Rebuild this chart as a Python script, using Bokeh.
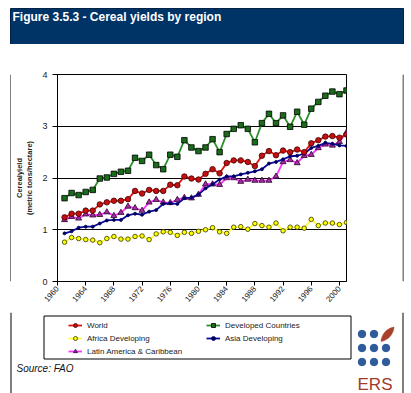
import math
from bokeh.plotting import figure
from bokeh.layouts import column, row
from bokeh.models import FixedTicker, Range1d, Legend, LegendItem
from bokeh.core.properties import value
from bokeh.embed import file_html
from bokeh.resources import INLINE

# ---------------- data ----------------
years = [1961, 1962, 1963, 1964, 1965, 1966, 1967, 1968, 1969, 1970,
         1971, 1972, 1973, 1974, 1975, 1976, 1977, 1978, 1979, 1980,
         1981, 1982, 1983, 1984, 1985, 1986, 1987, 1988, 1989, 1990,
         1991, 1992, 1993, 1994, 1995, 1996, 1997, 1998, 1999, 2000, 2001]

world = [1.24, 1.31, 1.31, 1.37, 1.37, 1.49, 1.53, 1.56, 1.56, 1.59,
         1.75, 1.70, 1.77, 1.75, 1.75, 1.87, 1.86, 2.03, 1.99, 1.97,
         2.08, 2.17, 2.09, 2.29, 2.34, 2.34, 2.31, 2.23, 2.43, 2.52,
         2.44, 2.53, 2.50, 2.55, 2.50, 2.67, 2.73, 2.80, 2.81, 2.78, 2.84]

developed = [1.61, 1.71, 1.67, 1.73, 1.77, 1.99, 2.01, 2.08, 2.12, 2.14,
             2.39, 2.33, 2.45, 2.25, 2.17, 2.45, 2.41, 2.73, 2.59, 2.52,
             2.59, 2.75, 2.50, 2.85, 2.95, 3.02, 2.95, 2.69, 3.06, 3.24,
             3.06, 3.21, 2.99, 3.28, 3.03, 3.34, 3.47, 3.59, 3.67, 3.62, 3.69]

africa = [0.76, 0.85, 0.83, 0.81, 0.80, 0.75, 0.83, 0.87, 0.82, 0.82,
          0.87, 0.88, 0.81, 0.92, 0.96, 0.95, 0.89, 0.95, 0.93, 0.97,
          1.00, 1.04, 0.96, 0.93, 1.05, 1.06, 1.01, 1.12, 1.08, 1.05,
          1.13, 0.98, 1.05, 1.05, 1.03, 1.20, 1.08, 1.13, 1.13, 1.10, 1.14]

latin = [1.19, 1.25, 1.22, 1.30, 1.28, 1.29, 1.34, 1.27, 1.33, 1.45,
         1.42, 1.37, 1.53, 1.58, 1.53, 1.52, 1.58, 1.62, 1.61, 1.68,
         1.88, 1.88, 1.87, 2.00, 2.00, 1.93, 1.97, 1.95, 1.95, 1.95,
         2.03, 2.31, 2.35, 2.29, 2.43, 2.45, 2.58, 2.65, 2.63, 2.70, 2.88]

asia = [0.93, 0.97, 1.04, 1.06, 1.06, 1.12, 1.18, 1.19, 1.19, 1.28,
        1.31, 1.29, 1.35, 1.38, 1.50, 1.51, 1.50, 1.61, 1.62, 1.68,
        1.80, 1.88, 1.97, 2.03, 2.03, 2.07, 2.10, 2.13, 2.17, 2.28,
        2.31, 2.36, 2.42, 2.43, 2.47, 2.58, 2.62, 2.68, 2.66, 2.63, 2.62]

x_ticks = [1960, 1964, 1968, 1972, 1976, 1980, 1984, 1988, 1992, 1996, 2000]
y_ticks = [0, 1, 2, 3, 4]

series_names = ["World", "Africa Developing", "Latin America & Caribbean",
                "Developed Countries", "Asia Developing"]

FONT = "Liberation Sans"

STY = {
    "World": dict(line="#e01010", marker="circle", size=5.5, fill="#c41010", edge="#400000"),
    "Developed Countries": dict(line="#2a8f2a", marker="square", size=5.5, fill="#1a6b1a", edge="#000000"),
    "Africa Developing": dict(line="#ffff33", marker="circle", size=4.5, fill="#ffff00", edge="#333300"),
    "Latin America & Caribbean": dict(line="#ff33ff", marker="triangle", size=6, fill="#a030a0", edge="#300030"),
    "Asia Developing": dict(line="#0a0a9a", marker="circle", size=3, fill="#000060", edge="#000060"),
}
DATA = {"World": world, "Developed Countries": developed, "Africa Developing": africa,
        "Latin America & Caribbean": latin, "Asia Developing": asia}


def deco_fig(w, h, x0, x1, y0, y1):
    f = figure(width=w, height=h, output_backend="svg", toolbar_location=None,
               title=None, x_range=Range1d(x0, x1), y_range=Range1d(y1, y0),
               x_axis_location=None, y_axis_location=None, min_border=0,
               background_fill_color="white", border_fill_color="white")
    f.grid.visible = False
    f.outline_line_color = None
    return f


# ---------------- title bar (page y 0..44) ----------------
top = deco_fig(411, 44, 0, 411, 0, 44)
top.quad(left=[10], right=[403], top=[8], bottom=[44], fill_color="#003366",
         line_color="#002244", line_width=1)
top.text(x=[12], y=[16.5], text=["Figure 3.5.3 - Cereal yields by region"],
         text_font=value(FONT), text_font_size=value("12px"), text_font_style="bold",
         text_color="white", text_baseline="middle", text_align="left")

# ---------------- chart (page x 11..402, y 44..312) ----------------
p = figure(width=391, height=268, output_backend="svg", toolbar_location=None,
           title=None, x_range=(1960, 2001), y_range=(0, 4),
           min_border_left=42, min_border_right=56,
           min_border_top=30, min_border_bottom=31,
           background_fill_color="white", border_fill_color="white")
p.outline_line_color = "black"
p.outline_line_width = 1

p.xgrid.visible = False
p.ygrid.ticker = FixedTicker(ticks=y_ticks)
p.ygrid.grid_line_color = "black"
p.ygrid.grid_line_width = 1

p.xaxis.ticker = FixedTicker(ticks=x_ticks)
p.xaxis.major_label_orientation = 0.85
p.xaxis.major_tick_out = 4
p.xaxis.major_tick_in = 0
p.xaxis.minor_tick_line_color = None
p.xaxis.major_label_text_font = FONT
p.xaxis.major_label_text_font_size = "8px"
p.xaxis.major_label_text_color = "#222222"
p.xaxis.major_label_standoff = 2
p.xaxis.axis_line_color = "black"

p.yaxis.ticker = FixedTicker(ticks=y_ticks)
p.yaxis.major_tick_out = 5
p.yaxis.major_tick_in = 0
p.yaxis.minor_tick_line_color = None
p.yaxis.major_label_text_font = FONT
p.yaxis.major_label_text_font_size = "9px"
p.yaxis.major_label_text_color = "#222222"
p.yaxis.axis_label = "Cerealyield\n(metric tons/hectare)"
p.yaxis.axis_label_text_font = FONT
p.yaxis.axis_label_text_font_size = "7.5px"
p.yaxis.axis_label_text_font_style = "bold"
p.yaxis.axis_label_text_color = "#222222"
p.yaxis.axis_label_standoff = 5

for name in ["Latin America & Caribbean", "Asia Developing", "World",
             "Developed Countries", "Africa Developing"]:
    s = STY[name]
    p.line(years, DATA[name], line_color=s["line"], line_width=1.8)
    p.scatter(years, DATA[name], marker=s["marker"], size=s["size"],
              fill_color=s["fill"], line_color=s["edge"], line_width=0.8)

# side strips holding the panel's border lines
left_strip = deco_fig(11, 268, 0, 11, 44, 312)
left_strip.segment(x0=[10.5], y0=[44], x1=[10.5], y1=[312], line_color="black", line_width=1)
right_strip = deco_fig(9, 268, 402, 411, 44, 312)
right_strip.segment(x0=[402.5], y0=[44], x1=[402.5], y1=[312], line_color="black", line_width=1)

# ---------------- bottom (page y 312..393) ----------------
bot = deco_fig(411, 81, 0, 411, 312, 393)
bot.segment(x0=[10.5, 402.5], y0=[312, 312], x1=[10.5, 402.5], y1=[393, 393],
            line_color="black", line_width=1)
bot.quad(left=[43.5], right=[350.5], top=[315.5], bottom=[358.5], fill_alpha=0,
         line_color="black", line_width=1)

# legend proxies: the same series, drawn in this panel but outside its visible range
legend_items = {}
for name in series_names:
    s = STY[name]
    lr = bot.line(years, DATA[name], line_color=s["line"], line_width=1.8)
    mr = bot.scatter(years, DATA[name], marker=s["marker"], size=s["size"],
                     fill_color=s["fill"], line_color=s["edge"], line_width=0.8)
    legend_items[name] = LegendItem(label=name, renderers=[lr, mr])

leg_kw = dict(padding=0, margin=0, spacing=3, glyph_width=14, glyph_height=10,
              label_height=10, label_standoff=5, label_text_font=FONT,
              label_text_font_size="8px", label_text_color="#222222",
              border_line_alpha=0, background_fill_alpha=0)
leg1 = Legend(items=[legend_items[n] for n in series_names[:3]],
              location=(68, 37), **leg_kw)
leg2 = Legend(items=[legend_items[n] for n in series_names[3:]],
              location=(206, 50), **leg_kw)
bot.add_layout(leg1)
bot.add_layout(leg2)

bot.text(x=[16], y=[368], text=["Source: FAO"], text_font=value(FONT),
         text_font_size=value("10px"), text_font_style="italic",
         text_color="#111111", text_baseline="middle", text_align="left")

# ERS logo
dot_x = [361.5, 373.5, 361.5, 373.5, 385.5, 361.5, 373.5, 385.5]
dot_y = [333.5, 333.5, 347.5, 347.5, 347.5, 361.5, 361.5, 361.5]
bot.scatter(dot_x, dot_y, marker="circle", size=7.5, fill_color="#2f5b9b",
            line_color="#2f5b9b")
bx, by, tx, ty = 380.5, 341.0, 393.5, 326.5
L = math.hypot(tx - bx, ty - by)
nxu, nyu = -(ty - by) / L, (tx - bx) / L
side_a, side_b = [], []
for k in range(13):
    t = k / 12
    w = 3.4 * math.sin(math.pi * t) ** 0.8
    cx, cy = bx + t * (tx - bx), by + t * (ty - by)
    side_a.append((cx + w * nxu, cy + w * nyu))
    side_b.append((cx - w * nxu, cy - w * nyu))
pts = side_a + side_b[::-1]
bot.patch([a for a, b in pts], [b for a, b in pts], fill_color="#a8402c",
          line_color="#a8402c", line_width=0.5)
bot.text(x=[374.5], y=[383.5], text=["ERS"], text_font=value(FONT),
         text_font_size=value("17px"), text_color="#a0392b",
         text_baseline="middle", text_align="center")

layout = column(top, row(left_strip, p, right_strip), bot)

open("out.html", "w").write(file_html(layout, INLINE))
